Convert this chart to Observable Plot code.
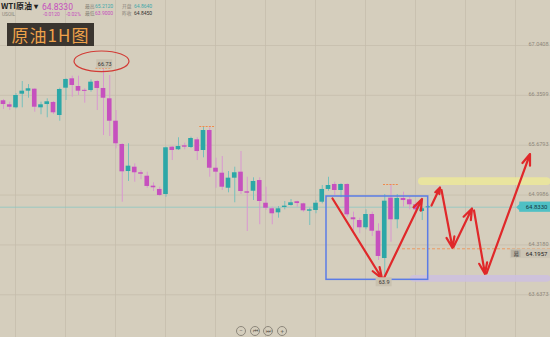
<!DOCTYPE html>
<html><head><meta charset="utf-8">
<script src="https://cdn.jsdelivr.net/npm/d3@7"></script>
<script src="https://cdn.jsdelivr.net/npm/@observablehq/plot@0.6"></script>
<style>
body{margin:0;background:#d5cebd;}
#wrap{position:relative;width:550px;height:337px;overflow:hidden;font-family:Roboto,"Noto Sans CJK SC",sans-serif;background:#d5cebd;}
#wrap svg{position:absolute;left:0;top:0;}
.abs{position:absolute;white-space:nowrap;line-height:1;}
.nav{position:absolute;width:8px;height:8px;border:1px solid #8d877b;border-radius:50%;font-size:6px;color:#6d675c;text-align:center;line-height:8px;}
</style></head><body><div id="wrap"></div>
<script>
// ---- data (WTI 1H candles) ----
const open = [66.286,66.231,66.190,66.376,66.417,66.444,66.190,66.235,66.263,66.085,
66.458,66.586,66.481,66.426,66.426,66.549,66.454,66.313,66.007,65.689,
65.320,65.379,65.303,65.256,65.120,65.075,65.006,65.652,65.617,65.671,
65.648,65.753,65.607,65.880,65.365,65.297,65.092,65.229,65.311,65.043,
65.051,65.197,64.887,64.811,64.756,64.829,64.856,64.907,64.879,64.778,
64.788,64.901,65.075,65.143,65.061,65.143,64.688,64.651,64.552,64.733,
64.505,64.132,64.956,64.661,64.952,64.934,64.866,64.774,64.830];
const close = [66.235,66.198,66.358,66.417,66.450,66.198,66.231,66.272,66.122,66.440,
66.577,66.495,66.417,66.417,66.540,66.454,66.321,66.007,65.699,65.316,
65.393,65.303,65.283,65.116,65.098,64.993,65.644,65.607,65.662,65.652,
65.771,65.593,65.880,65.365,65.311,65.106,65.229,65.303,65.047,65.024,
65.184,64.911,64.819,64.743,64.811,64.847,64.893,64.883,64.784,64.797,
64.887,65.075,65.129,65.061,65.143,64.729,64.661,64.552,64.733,64.505,
64.160,64.915,64.661,64.952,64.924,64.866,64.797,64.811,64.833];
const high = [66.303,66.267,66.385,66.549,66.508,66.450,66.267,66.313,66.276,66.458,
66.586,66.622,66.622,66.450,66.572,66.563,66.730,66.631,66.153,65.699,
65.699,65.425,65.330,65.311,65.166,65.106,65.652,65.662,65.781,65.707,
65.789,65.781,65.935,65.917,65.502,65.525,65.320,65.379,65.593,65.242,
65.234,65.234,65.106,64.833,64.842,64.911,64.938,64.915,64.887,64.819,
64.924,65.129,65.242,65.174,65.152,65.152,64.765,64.683,64.797,64.765,
64.606,65.006,65.143,65.006,65.038,64.969,64.901,64.833,64.850];
const low = [66.167,66.153,66.176,66.190,66.321,66.130,66.095,66.054,66.099,66.007,
66.290,66.335,66.358,66.253,66.403,66.153,65.812,65.798,65.630,64.901,
65.184,65.174,65.207,65.092,65.047,64.979,64.969,65.470,65.607,65.617,
65.634,65.470,65.507,65.242,65.092,65.061,65.029,64.893,65.006,64.501,
64.924,64.593,64.788,64.593,64.683,64.797,64.847,64.833,64.765,64.583,
64.743,64.879,65.051,64.993,64.961,64.696,64.505,64.470,64.524,64.433,
64.105,63.900,64.355,64.538,64.833,64.797,64.743,64.651,64.815];

const axisTicks = [67.0408, 66.3599, 65.6793, 64.9986, 64.3180, 63.6373];
const gridIdx = [1.92, 9.92, 17.92, 25.92, 33.92, 41.92, 49.92, 57.92, 65.92, 73.92, 81.92];
const lastPrice = 64.8330;
const orderPrice = 64.1957;
const orderLine = 64.265;
const orderStart = 63.84;

// swing-high markers (candle index, price)
const markIdx = [16, 32.6, 62];
const markPrice = [66.73, 65.935, 65.143];
// point labels
const labelIdx = [16.2, 60.9];
const labelPrice = [66.785, 63.808];
const labelText = ["66.73", "63.9"];
// ellipse around the high
const ellipseIdx = 15.76, ellipsePrice = 66.818;

// zones
const boxX1 = 51.68, boxX2 = 67.95, boxY1 = 64.979, boxY2 = 63.841;
const yellowZone = {x1: 66.4, x2: 87.6, y1: 65.234, y2: 65.129};
const purpleZone = {x1: 65.1, x2: 87.6, y1: 63.900, y2: 63.809};

// projected path arrows
const arrX1 = [52.64, 60.88, 68.48, 70.08, 72.00, 75.28, 77.28];
const arrY1 = [64.952, 63.866, 64.856, 65.068, 64.290, 64.788, 63.928];
const arrX2 = [60.56, 66.96, 69.84, 71.84, 74.96, 77.04, 84.24];
const arrY2 = [63.859, 64.945, 65.102, 64.276, 64.815, 63.921, 65.559];

const candles = open.map((o, i) => ({i, o, h: high[i], l: low[i], c: close[i], up: close[i] >= o}));
const arrows = arrX1.map((x, k) => ({x1: x, y1: arrY1[k], x2: arrX2[k], y2: arrY2[k]}));
const marks = markIdx.map((x, k) => ({x, p: markPrice[k]}));
const labels = labelIdx.map((x, k) => ({x, p: labelPrice[k], t: labelText[k]}));

const UP = "#2ca7a7", DOWN = "#c650be", UPW = "#77c0bc", DOWNW = "#d996d1";
const XMAX = 87.52;

const chart = Plot.plot({
  width: 550, height: 337, margin: 0,
  x: {domain: [-0.48, XMAX], axis: null},
  y: {domain: [63.0536, 67.6553], axis: null},
  style: {background: "transparent", fontFamily: "Roboto, sans-serif"},
  marks: [
    Plot.ruleY(axisTicks, {stroke: "#c4bcaa", strokeWidth: 0.7}),
    Plot.ruleX(gridIdx, {stroke: "#c4bcaa", strokeWidth: 0.7}),
    Plot.ruleY([lastPrice], {stroke: "#8cc6c4", strokeWidth: 0.8}),
    Plot.rect([yellowZone], {x1: "x1", x2: "x2", y1: "y1", y2: "y2", fill: "#ece79a", fillOpacity: 0.85, rx: 4}),
    Plot.rect([purpleZone], {x1: "x1", x2: "x2", y1: "y1", y2: "y2", fill: "#cdbfe0", fillOpacity: 0.85, rx: 4}),
    Plot.ruleY([orderLine], {x1: orderStart, x2: XMAX, stroke: "#f08a4b", strokeWidth: 0.8, strokeDasharray: "3,2"}),
    Plot.ruleX(candles, {x: "i", y1: "l", y2: "h", stroke: d => d.up ? UPW : DOWNW, strokeWidth: 1}),
    Plot.rect(candles, {
      x1: d => d.i - 0.37, x2: d => d.i + 0.37,
      y1: d => Math.abs(d.o - d.c) < 0.012 ? (d.o + d.c) / 2 + 0.007 : d.o,
      y2: d => Math.abs(d.o - d.c) < 0.012 ? (d.o + d.c) / 2 - 0.007 : d.c,
      fill: d => d.up ? UP : DOWN
    }),
    Plot.ruleY(marks, {x1: d => d.x - 1.2, x2: d => d.x + 1.2, y: "p", stroke: "#f08a4b", strokeWidth: 1.2, strokeDasharray: "2,1.2"}),
    Plot.rect([0], {x1: boxX1, x2: boxX2, y1: boxY1, y2: boxY2, fill: "none", stroke: "#5b7ce6", strokeWidth: 1.5}),
    Plot.arrow(arrows, {x1: "x1", y1: "y1", x2: "x2", y2: "y2", stroke: "#e0282a", strokeWidth: 2.2, headLength: 8, headAngle: 40}),
    Plot.rect(labels, {x1: "x", x2: "x", y1: "p", y2: "p", insetLeft: -8, insetRight: -8, insetTop: -4.5, insetBottom: -4.5, fill: "#c9c1af"}),
    Plot.text(labels, {x: "x", y: "p", text: "t", fontSize: 5.5, fill: "#333"}),
    // right axis labels
    Plot.text(axisTicks, {x: XMAX, y: d => d, text: d => d.toFixed(4), textAnchor: "end", dx: -2, dy: -1, fontSize: 5.5, fill: "#8e887b"}),
    // last price tag
    Plot.rect([lastPrice], {x1: 82.6, x2: XMAX, y1: d => d + 0.07, y2: d => d - 0.07, fill: "#4fc0c4"}),
    Plot.dot([lastPrice], {x: 82.6, y: d => d, symbol: "diamond2", r: 3.2, fill: "#4fc0c4"}),
    Plot.text([lastPrice], {x: XMAX, y: d => d, text: d => d.toFixed(4), textAnchor: "end", dx: -3, fontSize: 6, fill: "#163a44"}),
    // order tag
    Plot.rect([orderPrice], {x1: 81.1, x2: XMAX, y1: d => d + 0.065, y2: d => d - 0.065, fill: "#ccc5b5"}),
    Plot.rect([orderPrice], {x1: 81.3, x2: 82.8, y1: d => d + 0.05, y2: d => d - 0.05, fill: "#b9b2a3"}),
    Plot.text([orderPrice], {x: 82.05, y: d => d, text: ["幕"], fontSize: 5.5, fill: "#444", fontFamily: "Noto Sans CJK SC"}),
    Plot.text([orderPrice], {x: XMAX, y: d => d, text: d => d.toFixed(4), textAnchor: "end", dx: -3, fontSize: 6, fill: "#222"})
  ]
});

// ellipse around the high, positioned through the plot scales
const sx = chart.scale("x"), sy = chart.scale("y");
d3.select(chart).append("ellipse")
  .attr("cx", sx.apply(ellipseIdx)).attr("cy", sy.apply(ellipsePrice))
  .attr("rx", 27.5).attr("ry", 10.3)
  .attr("fill", "none").attr("stroke", "#d23b35").attr("stroke-width", 1.2);

const wrap = document.getElementById("wrap");
wrap.appendChild(chart);

function addText(txt, left, top, css) {
  const d = document.createElement("div");
  d.className = "abs"; d.textContent = txt;
  d.style.left = left + "px"; d.style.top = top + "px";
  Object.assign(d.style, css || {});
  wrap.appendChild(d);
}
addText("WTI原油 ▾", 1, 1, {fontSize: "8px", fontWeight: "700", color: "#222", fontFamily: "'Noto Sans CJK SC',sans-serif", lineHeight: "9px", height: "9px"});
addText("USOIL", 2, 12.5, {fontSize: "4.8px", color: "#8a857a"});
addText("64.8330", 42, 2.5, {fontSize: "8.5px", color: "#c64fbd"});
addText("-0.0120", 43, 12, {fontSize: "5px", color: "#c64fbd"});
addText("-0.02%", 66, 12, {fontSize: "5px", color: "#c64fbd"});
addText("最高", 85, 3.5, {fontSize: "4.8px", color: "#8a857a", fontFamily: "'Noto Sans CJK SC'"});
addText("65.2120", 95, 3.5, {fontSize: "5px", color: "#3fa8aa"});
addText("开盘", 122, 3.5, {fontSize: "4.8px", color: "#8a857a", fontFamily: "'Noto Sans CJK SC'"});
addText("64.8640", 134, 3.5, {fontSize: "5px", color: "#3fa8aa"});
addText("最低", 85, 11, {fontSize: "4.8px", color: "#8a857a", fontFamily: "'Noto Sans CJK SC'"});
addText("63.9000", 95, 11, {fontSize: "5px", color: "#c64fbd"});
addText("昨收", 122, 11, {fontSize: "4.8px", color: "#8a857a", fontFamily: "'Noto Sans CJK SC'"});
addText("64.8450", 134, 11, {fontSize: "5px", color: "#333"});
addText("原油1H图", 7, 22.5, {width: "87px", height: "23px", background: "#3a352f", color: "#eea24a",
  fontSize: "17px", lineHeight: "23px", textAlign: "center", letterSpacing: "1px", fontFamily: "'Noto Sans CJK SC',sans-serif"});

const navs = [["−", 241], ["⏮", 255], ["⏭", 268.3], ["+", 282.3]];
for (const [g, x] of navs) {
  const d = document.createElement("div");
  d.className = "nav"; d.textContent = g;
  d.style.left = (x - 5) + "px"; d.style.top = (330.7 - 5) + "px";
  wrap.appendChild(d);
}
</script></body></html>
